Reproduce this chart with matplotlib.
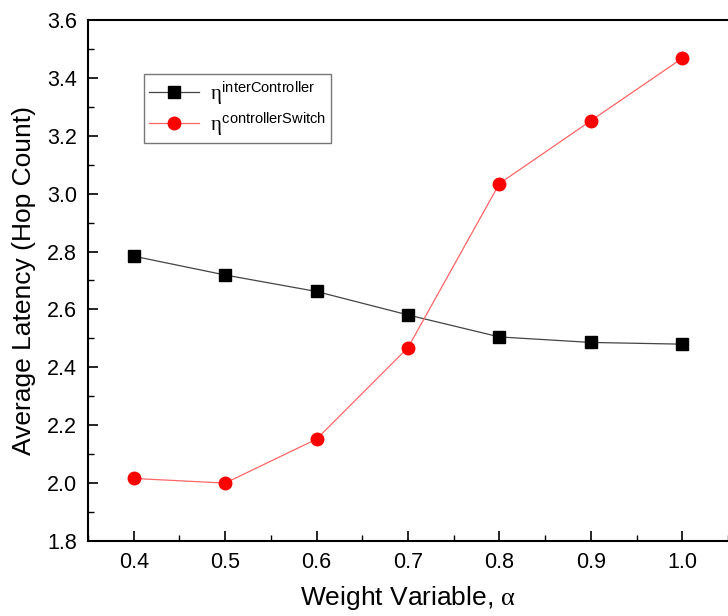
import matplotlib
matplotlib.use('Agg')
import matplotlib.pyplot as plt
from matplotlib.ticker import MultipleLocator

plt.rcParams['font.family'] = ['Liberation Sans', 'DejaVu Sans']
plt.rcParams['mathtext.fontset'] = 'custom'
plt.rcParams['mathtext.it'] = 'Liberation Serif'
plt.rcParams['mathtext.rm'] = 'Liberation Serif'
plt.rcParams['mathtext.sf'] = 'Liberation Sans'

alpha = [0.4, 0.5, 0.6, 0.7, 0.8, 0.9, 1.0]
inter_controller = [2.784, 2.719, 2.662, 2.581, 2.505, 2.486, 2.480]
controller_switch = [2.016, 2.000, 2.152, 2.468, 3.035, 3.252, 3.468]

fig = plt.figure(figsize=(7.28, 6.16), dpi=100)
ax = fig.add_axes([0.1209, 0.1218, 0.8791, 0.8457])

ax.plot(alpha, inter_controller, color='#444444', lw=0.9, marker='s',
        markersize=8, markerfacecolor='black', markeredgecolor='black',
        label=r'$\eta^{\mathsf{interController}}$')
ax.plot(alpha, controller_switch, color='#ff6666', lw=0.9, marker='o',
        markersize=9, markerfacecolor='red', markeredgecolor='red',
        label=r'$\eta^{\mathsf{controllerSwitch}}$')

ax.set_xlim(0.35, 1.05)
ax.set_ylim(1.8, 3.6)
ax.xaxis.set_major_locator(MultipleLocator(0.1))
ax.xaxis.set_minor_locator(MultipleLocator(0.05))
ax.yaxis.set_major_locator(MultipleLocator(0.2))
ax.yaxis.set_minor_locator(MultipleLocator(0.1))
ax.xaxis.set_major_formatter(plt.FormatStrFormatter('%.1f'))
ax.yaxis.set_major_formatter(plt.FormatStrFormatter('%.1f'))
ax.tick_params(which='both', direction='in', labelsize=15.5, top=False, right=False)
ax.tick_params(which='major', length=7, width=1.2, pad=8)
ax.tick_params(which='minor', length=4, width=1.0)
for s in ['left', 'bottom', 'top']:
    ax.spines[s].set_linewidth(1.5)
ax.spines['right'].set_visible(False)

ax.set_xlabel(r'Weight Variable, $\alpha$', fontsize=19, labelpad=8)
ax.set_ylabel('Average Latency (Hop Count)', fontsize=19, labelpad=8)

leg = ax.legend(loc='upper left', bbox_to_anchor=(0.0875, 0.896), borderaxespad=0,
                fontsize=15, frameon=True, fancybox=False, handlelength=2.4,
                labelspacing=0.15, borderpad=0.25, handletextpad=0.5)
leg.get_frame().set_edgecolor('#555555')
leg.get_frame().set_linewidth(1.0)

fig.savefig('out.png', dpi=100)
